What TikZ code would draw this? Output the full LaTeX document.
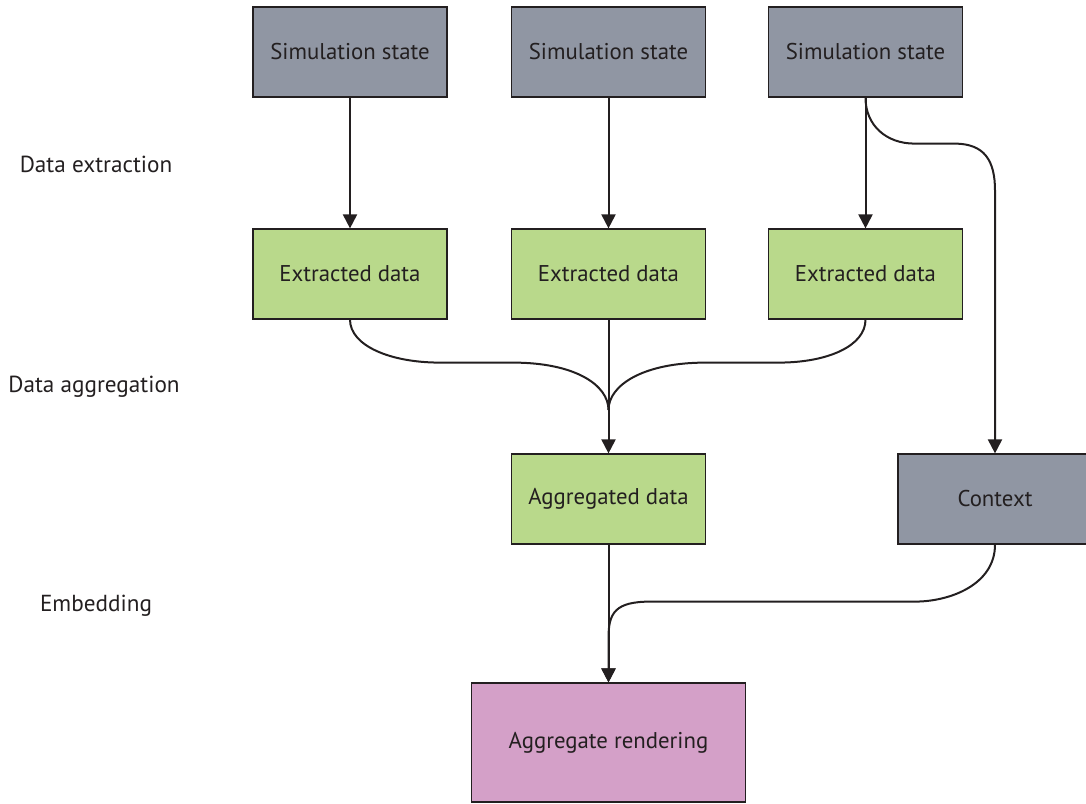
\documentclass[tikz,border=0pt]{standalone}
\usepackage{fontspec}
\setmainfont{PT Sans}
\usetikzlibrary{arrows.meta}
\definecolor{simgray}{RGB}{144,150,163}
\definecolor{extgreen}{RGB}{185,217,139}
\definecolor{rendpink}{RGB}{212,160,200}
\definecolor{txt}{RGB}{35,31,32}
\tikzset{
  box/.style={draw=txt, line width=1.2pt, minimum width=194pt, minimum height=90pt, inner sep=0pt, text=txt, font=\fontsize{22.8}{26}\selectfont},
  simbox/.style={box, fill=simgray},
  extbox/.style={box, fill=extgreen},
  rendbox/.style={box, fill=rendpink, minimum width=274pt, minimum height=119pt},
  lab/.style={text=txt, font=\fontsize{23.2}{26}\selectfont, inner sep=0pt},
  conn/.style={draw=txt, line width=2pt},
  arr/.style={conn, -{Triangle[length=14pt,width=14pt]}}
}
\begin{document}
\begin{tikzpicture}[x=1pt,y=-1pt]
\useasboundingbox (0,0) rectangle (1086,803);
\node[simbox] (s1) at (350,52) {Simulation state};
\node[simbox] (s2) at (608.5,52) {Simulation state};
\node[simbox] (s3) at (865.5,52) {Simulation state};
\node[extbox] (e1) at (350,274) {Extracted data};
\node[extbox] (e2) at (608.5,274) {Extracted data};
\node[extbox] (e3) at (865.5,274) {Extracted data};
\node[extbox] (agg) at (608.5,499) {Aggregated data};
\node[simbox] (ctx) at (995,499) {Context};
\node[rendbox] (rend) at (608.5,742.5) {Aggregate rendering};
\node[lab] (l1) at (96,164) {Data extraction};
\node[lab] (l2) at (94,387) {Data aggregation};
\node[lab] (l3) at (96,606) {Embedding};
\coordinate (merge) at (608.5,410);
\draw[arr] (s1) -- (e1);
\draw[arr] (s2) -- (e2);
\draw[arr] (s3) -- (e3);
\draw[arr] (s3.south) .. controls +(0,28) and +(-28,0) .. ++(49,46) -- ++(40,0) .. controls +(30,0) and +(0,-30) .. ++(40.5,47) -- (ctx.north);
\draw[conn] (e1.south) .. controls +(0,26) and +(-50,0) .. ++(90,43) -- ++(73,0) .. controls +(62,0) and +(0,-25) .. (merge);
\draw[conn] (e3.south) .. controls +(0,26) and +(50,0) .. ++(-87,43) -- ++(-73,0) .. controls +(-62,0) and +(0,-25) .. (merge);
\draw[arr] (e2) -- (agg);
\draw[arr] (agg) -- (rend);
\draw[arr] (ctx.south) .. controls +(0,40) and +(35,0) .. ++(-80,57) -- ++(-264.5,0) .. controls +(-35,0) and +(0,-25) .. ++(-42,36) -- (rend.north);
\end{tikzpicture}
\end{document}
